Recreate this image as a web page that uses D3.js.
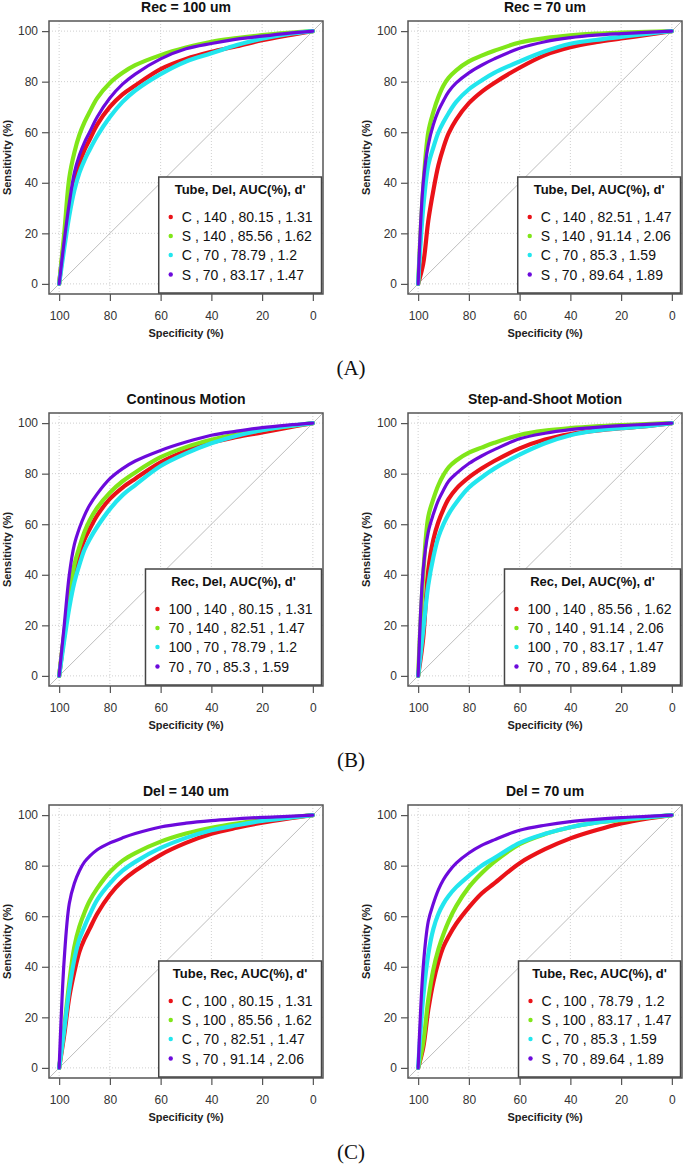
<!DOCTYPE html>
<html>
<head>
<meta charset="utf-8">
<script src="https://cdn.jsdelivr.net/npm/d3@7"></script>
<style>
  html, body { margin: 0; padding: 0; background: #fff; }
  svg { display: block; }
</style>
</head>
<body>
<svg id="chart" width="685" height="1167"></svg>
<script>
// ---------- DATA ----------
// specificity grid (%) at which sensitivities were read
const SPEC = [100, 98, 96, 94, 92, 90, 88, 85, 80, 75, 70, 60, 50, 40, 30, 20, 10, 0];
const xTickValues = [100, 80, 60, 40, 20, 0];
const yTickValues = [0, 20, 40, 60, 80, 100];

const panelTitles = ["Rec = 100 um", "Rec = 70 um", "Continous Motion", "Step-and-Shoot Motion", "Del = 140 um", "Del = 70 um"];
const legendTitles = ["Tube, Del, AUC(%), d'", "Tube, Del, AUC(%), d'", "Rec, Del, AUC(%), d'", "Rec, Del, AUC(%), d'", "Tube, Rec, AUC(%), d'", "Tube, Rec, AUC(%), d'"];
const legendLabels = [
  ["C , 140 , 80.15 , 1.31", "S , 140 , 85.56 , 1.62", "C , 70 , 78.79 , 1.2", "S , 70 , 83.17 , 1.47"],
  ["C , 140 , 82.51 , 1.47", "S , 140 , 91.14 , 2.06", "C , 70 , 85.3 , 1.59", "S , 70 , 89.64 , 1.89"],
  ["100 , 140 , 80.15 , 1.31", "70 , 140 , 82.51 , 1.47", "100 , 70 , 78.79 , 1.2", "70 , 70 , 85.3 , 1.59"],
  ["100 , 140 , 85.56 , 1.62", "70 , 140 , 91.14 , 2.06", "100 , 70 , 83.17 , 1.47", "70 , 70 , 89.64 , 1.89"],
  ["C , 100 , 80.15 , 1.31", "S , 100 , 85.56 , 1.62", "C , 70 , 82.51 , 1.47", "S , 70 , 91.14 , 2.06"],
  ["C , 100 , 78.79 , 1.2", "S , 100 , 83.17 , 1.47", "C , 70 , 85.3 , 1.59", "S , 70 , 89.64 , 1.89"]
];
const figureLabels = ["(A)", "(B)", "(C)"];
const seriesColors = ["#ea1218", "#80e619", "#22e6ee", "#6c0adc"];

// Sensitivity (%) read at SPEC points, one array per curve
// (A) Rec = 100 um
const aLeftRed    = [0, 17, 30, 40, 47.5, 53, 57, 63, 70, 75, 78.5, 85, 89, 91.8, 94, 96.4, 98.3, 100];
const aLeftGreen  = [0, 20, 42, 52, 59, 64, 68, 73.5, 79.5, 83.5, 86.5, 90.5, 93.5, 95.8, 97.2, 98.4, 99.3, 100];
const aLeftCyan   = [0, 14, 27, 37, 44, 49, 53, 58.5, 66, 72, 76.5, 83, 88, 91.2, 94.5, 97, 98.8, 100];
const aLeftPurple = [0, 17, 32, 44, 51, 56, 60, 66, 73.5, 79, 83, 89, 93, 95.1, 96.8, 98, 99.1, 100];
// (A) Rec = 70 um
const aRightRed    = [0, 8, 25, 37, 47, 54, 59.5, 65, 71.5, 76, 79.5, 85.5, 90.5, 93.6, 95.6, 97.1, 98.5, 100];
const aRightGreen  = [0, 38, 60, 68, 74, 78.5, 81.5, 84.5, 88, 90.3, 92.2, 95.5, 97.2, 98.3, 99, 99.4, 99.7, 100];
const aRightCyan   = [0, 30, 47, 54, 60, 64, 67.5, 72, 77, 80.5, 83.5, 88, 92, 95, 96.5, 97.7, 98.9, 100];
const aRightPurple = [0, 40, 55, 63, 68.5, 72.5, 76, 79.5, 83.5, 86.5, 89, 93.2, 95.8, 97.4, 98.4, 99, 99.5, 100];
// (B) Continous Motion
const bLeftRed    = [0, 16, 30, 40, 48, 54, 58, 63.5, 70, 74.5, 78, 84.5, 89, 92.3, 94.5, 96.3, 98.2, 100];
const bLeftGreen  = [0, 17, 32, 44, 51, 57, 61.5, 66.5, 72.5, 77, 80.5, 86.5, 90.5, 93.4, 95.5, 97.3, 98.7, 100];
const bLeftCyan   = [0, 14, 27, 37, 44, 50, 54, 59, 66, 71.5, 75.5, 83, 88, 92, 95, 97.2, 98.8, 100];
const bLeftPurple = [0, 20, 40, 52, 58.5, 63.5, 67.5, 72, 78, 82, 85, 89.2, 92.5, 95.2, 96.8, 98.2, 99.2, 100];
// (B) Step-and-Shoot Motion
const bRightRed    = [0, 15, 42, 54, 61, 66, 70, 74, 78.5, 82, 85, 90, 93.5, 95.7, 97, 98, 98.8, 100];
const bRightGreen  = [0, 40, 63, 70, 75.5, 79.5, 82.5, 85.2, 88.3, 90.3, 92.2, 95.3, 97, 98, 98.7, 99.2, 99.6, 100];
const bRightCyan   = [0, 18, 36, 47, 55, 60, 64, 68.5, 74.5, 78.5, 82, 87.5, 92, 95.2, 97, 98, 98.8, 100];
const bRightPurple = [0, 42, 57, 64, 69.5, 73.5, 77, 80, 84, 87, 89.5, 93.8, 96, 97.4, 98.3, 99, 99.5, 100];
// (C) Del = 140 um
const cLeftRed    = [0, 13, 28, 38, 46, 51, 55, 61, 68.5, 74, 78, 84.3, 89, 92.6, 95, 97, 98.6, 100];
const cLeftGreen  = [0, 16, 34, 48, 56, 61.5, 66, 71, 77.5, 82, 85, 89.5, 92.7, 95, 96.7, 98, 99, 100];
const cLeftCyan   = [0, 15, 31, 43, 51, 56, 60.5, 66.5, 73, 78, 81.5, 87, 91, 94, 96, 97.7, 98.9, 100];
const cLeftPurple = [0, 43, 65, 73, 78, 81.5, 83.7, 86.3, 89, 91, 92.7, 95.3, 96.8, 97.8, 98.5, 99.1, 99.5, 100];
// (C) Del = 70 um
const cRightRed    = [0, 8, 23, 34, 42, 48, 52, 57, 63.5, 69, 73, 81, 86.5, 90.8, 94, 96.7, 98.6, 100];
const cRightGreen  = [0, 10, 27, 39, 47, 53, 58, 64, 71.5, 77, 81.5, 88.5, 92.5, 95.2, 97, 98, 99, 100];
const cRightCyan   = [0, 28, 45, 55, 61, 65, 68, 71.5, 76, 80, 83, 89, 92.6, 95.2, 97, 98.2, 99.1, 100];
const cRightPurple = [0, 40, 58, 65, 70.5, 74.5, 77.5, 81, 85, 88, 90.2, 94, 96, 97.4, 98.3, 99, 99.5, 100];

const panelSeries = [
  [aLeftRed, aLeftGreen, aLeftCyan, aLeftPurple],
  [aRightRed, aRightGreen, aRightCyan, aRightPurple],
  [bLeftRed, bLeftGreen, bLeftCyan, bLeftPurple],
  [bRightRed, bRightGreen, bRightCyan, bRightPurple],
  [cLeftRed, cLeftGreen, cLeftCyan, cLeftPurple],
  [cRightRed, cRightGreen, cRightCyan, cRightPurple]
];

// ---------- LAYOUT ----------
const svg = d3.select("#chart");
const colX = [49, 408];
const rowY = [21, 413, 805];
const BOX_W = 274, BOX_H = 273;
const seriesWidths = [4.2, 4.2, 4.2, 3.2];
const boxColor = "#555";
const textColor = "#333";

panelSeries.forEach((series, p) => {
  const bx = colX[p % 2], by = rowY[Math.floor(p / 2)];
  const g = svg.append("g");
  const x = d3.scaleLinear().domain([104, -4]).range([bx, bx + BOX_W]);
  const y = d3.scaleLinear().domain([-4, 104]).range([by + BOX_H, by]);

  // grid
  g.selectAll(".gx").data(xTickValues).enter().append("line")
    .attr("x1", d => x(d)).attr("x2", d => x(d))
    .attr("y1", by).attr("y2", by + BOX_H)
    .attr("stroke", "#cfcfcf").attr("stroke-dasharray", "1,2").attr("stroke-width", 1);
  g.selectAll(".gy").data(yTickValues).enter().append("line")
    .attr("y1", d => y(d)).attr("y2", d => y(d))
    .attr("x1", bx).attr("x2", bx + BOX_W)
    .attr("stroke", "#cfcfcf").attr("stroke-dasharray", "1,2").attr("stroke-width", 1);

  // diagonal reference
  g.append("line")
    .attr("x1", x(104)).attr("y1", y(-4)).attr("x2", x(-4)).attr("y2", y(104))
    .attr("stroke", "#bdbdbd").attr("stroke-width", 1);

  // curves
  const line = d3.line()
    .x(d => x(d[0])).y(d => y(d[1]))
    .curve(d3.curveCatmullRom.alpha(0.5));
  series.forEach((vals, i) => {
    const pts = SPEC.map((s, k) => [s, vals[k]]);
    g.append("path").attr("d", line(pts))
      .attr("fill", "none").attr("stroke", seriesColors[i])
      .attr("stroke-width", seriesWidths[i])
      .attr("stroke-linecap", "round").attr("stroke-linejoin", "round");
  });

  // box
  g.append("rect").attr("x", bx).attr("y", by).attr("width", BOX_W).attr("height", BOX_H)
    .attr("fill", "none").attr("stroke", boxColor).attr("stroke-width", 1.5);

  // axes
  const xAxis = d3.axisBottom(x).tickValues(xTickValues).tickSize(7).tickPadding(10).tickFormat(d3.format("d"));
  const gx = g.append("g").attr("transform", `translate(0,${by + BOX_H})`).call(xAxis);
  const yAxis = d3.axisLeft(y).tickValues(yTickValues).tickSize(7).tickPadding(4).tickFormat(d3.format("d"));
  const gy = g.append("g").attr("transform", `translate(${bx},0)`).call(yAxis);
  [gx, gy].forEach(a => {
    a.select(".domain").remove();
    a.selectAll(".tick line").attr("stroke", boxColor).attr("stroke-width", 1.2);
    a.selectAll(".tick text").attr("fill", textColor)
      .style("font-family", "'Liberation Sans', Arial, sans-serif").style("font-size", "12px");
  });

  // title
  g.append("text").attr("x", bx + BOX_W / 2).attr("y", by - 9)
    .attr("text-anchor", "middle").attr("fill", "#111")
    .style("font-family", "'Liberation Sans', Arial, sans-serif")
    .style("font-size", "14px").style("font-weight", "bold")
    .text(panelTitles[p]);

  // axis labels
  g.append("text").attr("x", bx + BOX_W / 2).attr("y", by + BOX_H + 43)
    .attr("text-anchor", "middle").attr("fill", "#222")
    .style("font-family", "'Liberation Sans', Arial, sans-serif")
    .style("font-size", "11px").style("font-weight", "bold")
    .text("Specificity (%)");
  g.append("text")
    .attr("transform", `translate(${bx - 38},${by + BOX_H / 2}) rotate(-90)`)
    .attr("text-anchor", "middle").attr("fill", "#222")
    .style("font-family", "'Liberation Sans', Arial, sans-serif")
    .style("font-size", "11px").style("font-weight", "bold")
    .text("Sensitivity (%)");

  // legend
  const lg = g.append("g");
  const bg = lg.append("rect").attr("fill", "#fff").attr("stroke", "#444").attr("stroke-width", 1.5);
  const title = lg.append("text").attr("text-anchor", "middle").attr("fill", "#111")
    .style("font-family", "'Liberation Sans', Arial, sans-serif")
    .style("font-size", "13px").style("font-weight", "bold")
    .text(legendTitles[p]);
  const entries = legendLabels[p].map((lab, i) => lg.append("text").attr("fill", "#111")
    .style("font-family", "'Liberation Sans', Arial, sans-serif")
    .style("font-size", "14px").text(lab));
  const maxW = d3.max(entries, t => t.node().getComputedTextLength());
  const titleW = title.node().getComputedTextLength();
  const lw = Math.max(23 + maxW + 9, titleW + 16);
  const lh = 116;
  const lr = bx + BOX_W - 1.5, lb = by + BOX_H - 1;
  const lx = lr - lw, ly = lb - lh;
  bg.attr("x", lx).attr("y", ly).attr("width", lw).attr("height", lh);
  title.attr("x", lx + lw / 2).attr("y", lb - 99);
  const rowBase = [71, 52, 33, 13.5];
  entries.forEach((t, i) => {
    t.attr("x", lx + 23).attr("y", lb - rowBase[i]);
    lg.append("circle").attr("cx", lx + 12).attr("cy", lb - rowBase[i] - 5)
      .attr("r", 2.2).attr("fill", seriesColors[i]);
  });
});

// figure labels
figureLabels.forEach((lab, i) => {
  svg.append("text").attr("x", 351).attr("y", 375 + i * 392)
    .attr("text-anchor", "middle").attr("fill", "#111")
    .style("font-family", "'Liberation Serif', 'DejaVu Serif', serif")
    .style("font-size", "21px")
    .text(lab);
});
</script>
</body>
</html>
